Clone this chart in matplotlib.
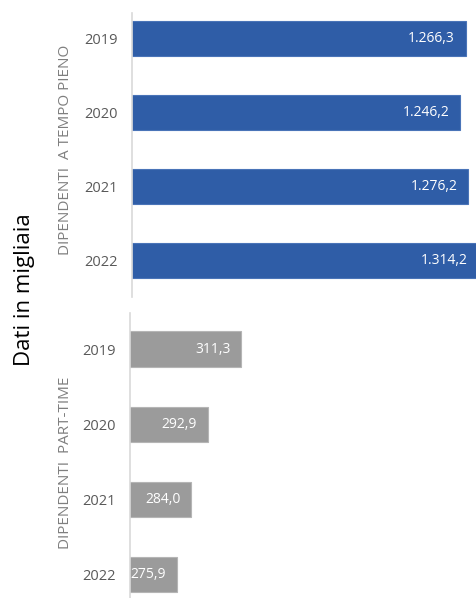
import matplotlib
matplotlib.use("Agg")
import matplotlib.pyplot as plt

years = ["2019", "2020", "2021", "2022"]
full_time = [1266.3, 1246.2, 1276.2, 1314.2]
part_time = [311.3, 292.9, 284.0, 275.9]
full_labels = ["1.266,3", "1.246,2", "1.276,2", "1.314,2"]
part_labels = ["311,3", "292,9", "284,0", "275,9"]
group_full = "DIPENDENTI  A TEMPO PIENO"
group_part = "DIPENDENTI  PART-TIME"
ylabel = "Dati in migliaia"

W, H = 477, 598
plt.rcParams['font.family'] = ['Open Sans', 'DejaVu Sans']
fig = plt.figure(figsize=(W / 100, H / 100), dpi=100)

def px_axes(x0, y0, x1, y1):
    return fig.add_axes([x0 / W, 1 - y1 / H, (x1 - x0) / W, (y1 - y0) / H])

ax1 = px_axes(131.7, 13, 477, 297)
ax2 = px_axes(130, 313, 477, 598)

blue = "#2F5DA7"
grey = "#9B9B9B"

def style(ax, vals, labels, color, edge, xlim, ylim):
    pos = list(range(len(vals)))
    ax.barh(pos, vals, height=0.47, color=color, edgecolor=edge, linewidth=0.8)
    ax.set_xlim(*xlim)
    ax.set_ylim(*ylim)
    ax.set_yticks(pos)
    ax.set_yticklabels(years, fontsize=10.5, color="#595959")
    ax.tick_params(axis='y', length=0, pad=10)
    ax.set_xticks([])
    for s in ["top", "right", "bottom"]:
        ax.spines[s].set_visible(False)
    ax.spines["left"].set_color("#D9D9D9")
    ax.spines["left"].set_linewidth(1.2)
    for p, v, t in zip(pos, vals, labels):
        ax.annotate(t, xy=(v, p), xytext=(-8, 0), textcoords="offset points",
                    ha="right", va="center", color="white", fontsize=10,
                    annotation_clip=False)

style(ax1, full_time, full_labels, blue, "#4A74B8", (0, 1309), (3.49, -0.344))
style(ax2, part_time, part_labels, grey, "#B5B5B5", (250.4, 440), (3.31, -0.48))

fig.text(66 / W, 1 - 150 / H, group_full, rotation=90, ha="center", va="center",
         fontsize=11, color="#7F7F7F")
fig.text(66 / W, 1 - 463 / H, group_part, rotation=90, ha="center", va="center",
         fontsize=11, color="#7F7F7F")
fig.text(25 / W, 1 - 290 / H, ylabel, rotation=90, ha="center", va="center",
         fontsize=16, color="black")

fig.savefig("out.png", dpi=100, facecolor="white")
